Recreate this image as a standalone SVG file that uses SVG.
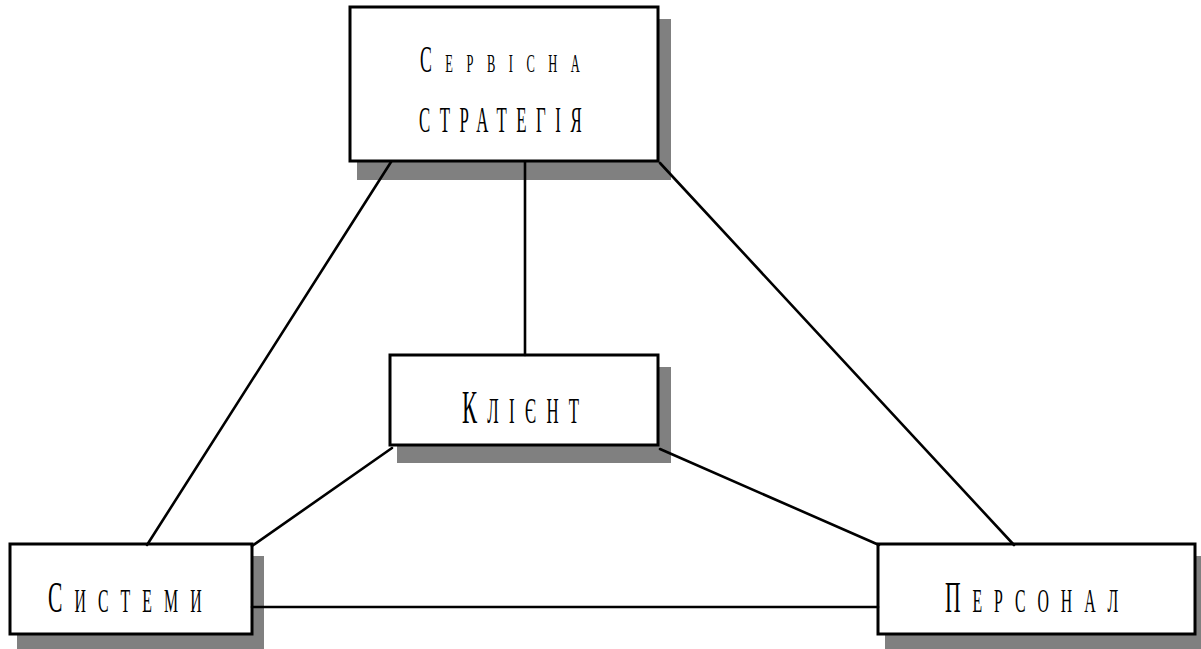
<svg xmlns="http://www.w3.org/2000/svg" width="1201" height="649" viewBox="0 0 1201 649">
<style>
.shadow{fill:#808080;stroke:none}
.box{fill:#fff;stroke:#000;stroke-width:3}
.lbl{font-family:"Liberation Serif","Times New Roman",serif;fill:#000}
.conn line{stroke:#000;stroke-width:2.6;fill:none;stroke-linecap:round}
</style>
<rect width="1201" height="649" fill="#fff"/>
<g id="node-strategy">
<rect class="shadow" x="357" y="19" width="314" height="161"/>
<rect class="box" x="350" y="7" width="308" height="154"/>
<text class="lbl" transform="matrix(0.48,0,0,1,420,72)" textLength="333" lengthAdjust="spacing"><tspan font-size="37">С</tspan><tspan font-size="26">ЕРВІСНА</tspan></text>
<text class="lbl" font-size="35" transform="matrix(0.48,0,0,1,419,132)" textLength="339" lengthAdjust="spacing">СТРАТЕГІЯ</text>
</g>
<g id="node-client">
<rect class="shadow" x="397" y="367" width="274" height="96"/>
<rect class="box" x="390" y="355" width="268" height="90"/>
<text class="lbl" transform="matrix(0.48,0,0,1,462,423)" textLength="244" lengthAdjust="spacing"><tspan font-size="47">К</tspan><tspan font-size="35">ЛІЄНТ</tspan></text>
</g>
<g id="node-systems">
<rect class="shadow" x="17" y="556" width="247" height="96"/>
<rect class="box" x="10" y="544" width="242" height="90"/>
<text class="lbl" transform="matrix(0.48,0,0,1,48,612)" textLength="320" lengthAdjust="spacing"><tspan font-size="45">С</tspan><tspan font-size="33">ИСТЕМИ</tspan></text>
</g>
<g id="node-personnel">
<rect class="shadow" x="885" y="556" width="322" height="96"/>
<rect class="box" x="878" y="544" width="317" height="90"/>
<text class="lbl" transform="matrix(0.48,0,0,1,945,612)" textLength="361" lengthAdjust="spacing"><tspan font-size="45">П</tspan><tspan font-size="33">ЕРСОНАЛ</tspan></text>
</g>
<g id="connectors" class="conn">
<line x1="391" y1="162" x2="147" y2="545"/>
<line x1="525" y1="162" x2="525" y2="355"/>
<line x1="660" y1="163" x2="1014" y2="545"/>
<line x1="392" y1="448" x2="252" y2="546"/>
<line x1="660" y1="449" x2="879" y2="545"/>
<line x1="252" y1="607" x2="878" y2="607"/>
</g>
</svg>
